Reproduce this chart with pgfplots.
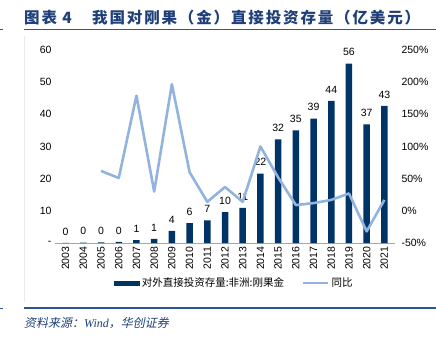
\documentclass[border=0pt]{standalone}
\usepackage{fontspec}
\setmainfont{Liberation Sans}
\newfontfamily\cjk{Noto Sans CJK SC}
\newfontfamily\cjktitle[LetterSpace=12]{Noto Sans CJK SC}
\newfontfamily\cjkit[FakeSlant=0.2]{Noto Sans CJK SC}
\newfontfamily\serifit{Liberation Serif}
\usepackage{pgfplots}
\pgfplotsset{compat=1.18}
\definecolor{navy}{RGB}{0,51,102}
\definecolor{lblue}{RGB}{145,179,222}
\definecolor{tblue}{RGB}{31,63,120}
\definecolor{rblue}{RGB}{47,85,151}
\begin{document}
\begin{tikzpicture}[x=1pt,y=1pt]
\useasboundingbox (0,0) rectangle (436,-339);
% title
\node[anchor=west,text=tblue,inner sep=0] at (24,-17.5) {\cjktitle\bfseries\fontsize{15.5}{17}\selectfont 图表 4};
\node[anchor=west,text=tblue,inner sep=0] at (92,-17.5) {\cjktitle\bfseries\fontsize{15.5}{17}\selectfont 我国对刚果（金）直接投资存量（亿美元）};
\draw[rblue,line width=1.5pt] (24,-29.7) -- (436,-29.7);
\draw[rblue,line width=1pt] (0,-29.7) -- (3,-29.7);
\draw[black!8,line width=0.6pt] (24,-36) -- (24,-302);
\draw[rblue,line width=1.5pt] (24,-308) -- (436,-308);
\draw[rblue,line width=1pt] (0,-308) -- (3,-308);
\node[anchor=west,text=tblue,inner sep=0] at (24,-323) {\cjkit\fontsize{12}{14}\selectfont 资料来源：{\serifit\itshape Wind}，华创证券};
\begin{axis}[
  at={(55pt,-243pt)}, anchor=south west,
  scale only axis, width=340pt, height=193pt,
  xmin=-0.6, xmax=18.6, ymin=0, ymax=60,
  ytick={0,10,20,30,40,50,60},
  yticklabels={-,10,20,30,40,50,60},
  xtick={0,...,18},
  xticklabels={2003,2004,2005,2006,2007,2008,2009,2010,2011,2012,2013,2014,2015,2016,2017,2018,2019,2020,2021},
  x tick label style={rotate=90,anchor=east,font=\fontsize{10.5}{12}\selectfont},
  y tick label style={font=\fontsize{10.5}{12}\selectfont},
  /pgf/number format/assume math mode=true,
  axis x line*=bottom,
  axis y line*=left,
  y axis line style={draw=none},
  x axis line style={black!35,line width=0.6pt,-},
  major tick length=0pt,
  clip=false,
]
\addplot[ybar, bar width=6.5pt, fill=navy, draw=none,
  nodes near coords,
  nodes near coords style={font=\fontsize{10.5}{12}\selectfont, text=black, yshift=4pt,
    /pgf/number format/.cd, fixed, precision=0},
] coordinates {
(0,0.02) (1,0.13) (2,0.21) (3,0.32) (4,0.9) (5,1.3) (6,3.8) (7,6.2) (8,7.0) (9,9.6)
(10,10.9) (11,21.6) (12,32.2) (13,35.0) (14,38.7) (15,44.2) (16,55.8) (17,36.9) (18,42.6)
};
\end{axis}
\begin{axis}[
  at={(55pt,-243pt)}, anchor=south west,
  scale only axis, width=340pt, height=193pt,
  xmin=-0.6, xmax=18.6, ymin=-50, ymax=250,
  ytick={-50,0,50,100,150,200,250},
  yticklabels={-50\%,0\%,50\%,100\%,150\%,200\%,250\%},
  y tick label style={font=\fontsize{10.5}{12}\selectfont, xshift=3pt},
  axis y line*=right,
  axis x line=none,
  y axis line style={draw=none},
  major tick length=0pt,
  clip=false,
  legend style={at={(0.528,-0.207)}, anchor=center, draw=none, fill=none,
    legend columns=2, font=\cjk\fontsize{10.5}{12}\selectfont,
    /tikz/every even column/.append style={column sep=16pt}},
]
\addlegendimage{legend image code/.code={\fill[navy] (0pt,-2pt) rectangle (25pt,2pt);}}
\addlegendentry{对外直接投资存量:非洲:刚果金}
\addplot[lblue, line width=2.6pt, line join=round] coordinates {
(2,62) (3,51) (4,179) (5,30) (6,197) (7,60) (8,14) (9,37) (10,14) (11,100)
(12,52) (13,9) (14,12) (15,17) (16,27) (17,-32) (18,17)
};
\addlegendentry{同比}
\pgfplotsset{legend image code/.code={\draw[lblue,line width=2.6pt] (0pt,0pt) -- (25pt,0pt);}}
\end{axis}
\end{tikzpicture}
\end{document}
